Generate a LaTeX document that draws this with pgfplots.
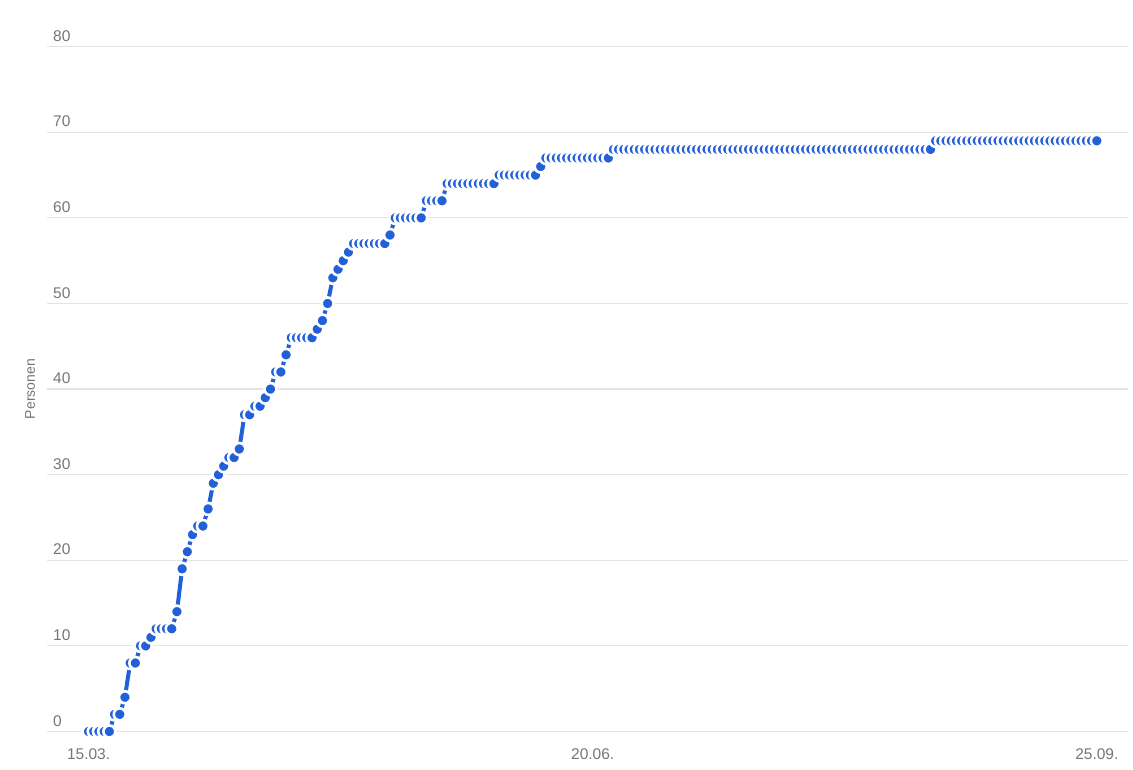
\documentclass[border=0pt]{standalone}
\usepackage{fontspec}
\setmainfont{Liberation Sans}
\usepackage{pgfplots}
\pgfplotsset{compat=1.18}
\definecolor{dotblue}{RGB}{34,96,218}
\definecolor{labelgray}{RGB}{117,117,117}
\definecolor{gridgray}{RGB}{228,228,228}

\begin{document}
\begin{tikzpicture}
\begin{axis}[
  scale only axis,
  width=1081pt, height=684.8pt,
  xmin=-8, xmax=200, ymin=0, ymax=80,
  clip=false,
  axis line style={draw=none},
  major tick length=0pt,
  xtick={0,97,194},
  xticklabels={15.03.,20.06.,25.09.},
  ytick={0,10,...,80},
  ymajorgrids,
  grid style={gridgray, line width=1.2pt},
  /pgf/number format/assume math mode=true,
  tick label style={font=\fontsize{15.5}{18}\selectfont, text=labelgray, inner sep=0pt},
  yticklabel style={anchor=south west, xshift=6pt, yshift=5pt},
  xticklabel style={anchor=north, yshift=-16.5pt},
  ylabel={Personen},
  every axis y label/.style={at={(axis description cs:-0.0157,0.5)}, rotate=90, anchor=center,
    font=\fontsize{14}{16}\selectfont, text=labelgray},
]
% cumulative count per day, day 0 = 15.03.
\addplot[dotblue, line width=4pt, line join=round, mark=*, mark size=6pt,
  mark options={fill=dotblue, draw=white, line width=2.6pt}] coordinates {
  (0,0)(1,0)(2,0)(3,0)(4,0)(5,2)(6,2)(7,4)(8,8)(9,8)
  (10,10)(11,10)(12,11)(13,12)(14,12)(15,12)(16,12)(17,14)(18,19)(19,21)
  (20,23)(21,24)(22,24)(23,26)(24,29)(25,30)(26,31)(27,32)(28,32)(29,33)
  (30,37)(31,37)(32,38)(33,38)(34,39)(35,40)(36,42)(37,42)(38,44)(39,46)
  (40,46)(41,46)(42,46)(43,46)(44,47)(45,48)(46,50)(47,53)(48,54)(49,55)
  (50,56)(51,57)(52,57)(53,57)(54,57)(55,57)(56,57)(57,57)(58,58)(59,60)
  (60,60)(61,60)(62,60)(63,60)(64,60)(65,62)(66,62)(67,62)(68,62)(69,64)
  (70,64)(71,64)(72,64)(73,64)(74,64)(75,64)(76,64)(77,64)(78,64)(79,65)
  (80,65)(81,65)(82,65)(83,65)(84,65)(85,65)(86,65)(87,66)(88,67)(89,67)
  (90,67)(91,67)(92,67)(93,67)(94,67)(95,67)(96,67)(97,67)(98,67)(99,67)
  (100,67)(101,68)(102,68)(103,68)(104,68)(105,68)(106,68)(107,68)(108,68)(109,68)
  (110,68)(111,68)(112,68)(113,68)(114,68)(115,68)(116,68)(117,68)(118,68)(119,68)
  (120,68)(121,68)(122,68)(123,68)(124,68)(125,68)(126,68)(127,68)(128,68)(129,68)
  (130,68)(131,68)(132,68)(133,68)(134,68)(135,68)(136,68)(137,68)(138,68)(139,68)
  (140,68)(141,68)(142,68)(143,68)(144,68)(145,68)(146,68)(147,68)(148,68)(149,68)
  (150,68)(151,68)(152,68)(153,68)(154,68)(155,68)(156,68)(157,68)(158,68)(159,68)
  (160,68)(161,68)(162,68)(163,69)(164,69)(165,69)(166,69)(167,69)(168,69)(169,69)
  (170,69)(171,69)(172,69)(173,69)(174,69)(175,69)(176,69)(177,69)(178,69)(179,69)
  (180,69)(181,69)(182,69)(183,69)(184,69)(185,69)(186,69)(187,69)(188,69)(189,69)
  (190,69)(191,69)(192,69)(193,69)(194,69)
};
\coordinate (sw) at (rel axis cs:0,0);
\coordinate (ne) at (rel axis cs:1,1);
\end{axis}
\pgfresetboundingbox
\path[use as bounding box] ([shift={(-47pt,-38.5pt)}]sw) rectangle ([shift={(5pt,46.7pt)}]ne);
\end{tikzpicture}
\end{document}
